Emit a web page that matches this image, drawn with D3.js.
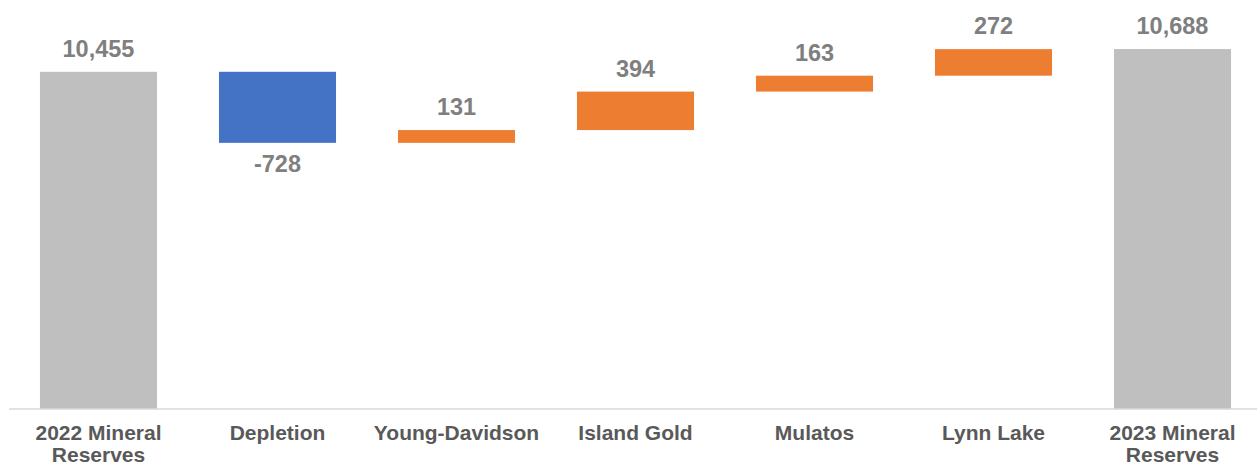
<!DOCTYPE html>
<html>
<head>
<meta charset="utf-8">
<script src="https://cdn.jsdelivr.net/npm/d3@7"></script>
<style>
  body { margin: 0; background: #fff; }
  text { font-family: 'Liberation Sans', Arial, sans-serif; font-weight: bold; }
</style>
</head>
<body>
<div id="chart"></div>
<script>
// categories and values
const categories = ['2022 Mineral|Reserves', 'Depletion', 'Young-Davidson', 'Island Gold', 'Mulatos', 'Lynn Lake', '2023 Mineral|Reserves'];
const values = [10455, -728, 131, 394, 163, 272, 10688];
const kinds = ['total', 'change', 'change', 'change', 'change', 'change', 'total'];
const valueLabels = ['10,455', '-728', '131', '394', '163', '272', '10,688'];

const w = 1257;
const h = 466;

// build the floating segments
let running = 0;
const bars = categories.map((c, i) => {
  let y0, y1;
  if (kinds[i] === 'total') {
    y0 = 7000;
    y1 = values[i];
    running = values[i];
  } else {
    y0 = running;
    y1 = running + values[i];
    running = y1;
  }
  return { cat: c, value: values[i], kind: kinds[i], label: valueLabels[i], lo: Math.min(y0, y1), hi: Math.max(y0, y1) };
});

const xScale = d3.scaleBand()
  .domain(categories)
  .range([9, 1262])
  .paddingInner(0.346)
  .paddingOuter(0.173);

const yScale = d3.scaleLinear()
  .domain([7000, 11000])
  .range([409, 18.6]);

const svg = d3.select('#chart')
  .append('svg')
  .attr('width', w)
  .attr('height', h);

function barColor(d) {
  if (d.kind === 'total') return '#bfbfbf';
  return d.value < 0 ? '#4472c4' : '#ed7d31';
}

svg.selectAll('rect.bar')
  .data(bars)
  .enter()
  .append('rect')
  .attr('class', 'bar')
  .attr('x', d => xScale(d.cat))
  .attr('width', xScale.bandwidth())
  .attr('y', d => yScale(d.hi))
  .attr('height', d => yScale(d.lo) - yScale(d.hi))
  .attr('fill', barColor);

// baseline
svg.append('line')
  .attr('x1', 9)
  .attr('x2', w)
  .attr('y1', yScale(7000))
  .attr('y2', yScale(7000))
  .attr('stroke', '#d9d9d9')
  .attr('stroke-width', 1.5);

// value labels
svg.selectAll('text.value')
  .data(bars)
  .enter()
  .append('text')
  .attr('class', 'value')
  .attr('text-anchor', 'middle')
  .attr('x', d => xScale(d.cat) + xScale.bandwidth() / 2)
  .attr('y', d => d.kind === 'change' && d.value < 0 ? yScale(d.lo) + 29 : yScale(d.hi) - 15)
  .attr('fill', '#7f7f7f')
  .style('font-size', '23.5px')
  .text(d => d.label);

// category labels
const catText = svg.selectAll('text.cat')
  .data(bars)
  .enter()
  .append('text')
  .attr('class', 'cat')
  .attr('text-anchor', 'middle')
  .attr('x', d => xScale(d.cat) + xScale.bandwidth() / 2)
  .attr('y', 440)
  .attr('fill', '#595959')
  .style('font-size', '21px');

catText.each(function (d) {
  const lines = d.cat.split('|');
  const t = d3.select(this);
  lines.forEach((ln, j) => {
    t.append('tspan')
      .attr('x', xScale(d.cat) + xScale.bandwidth() / 2)
      .attr('dy', j === 0 ? 0 : 22)
      .text(ln);
  });
});
</script>
</body>
</html>
